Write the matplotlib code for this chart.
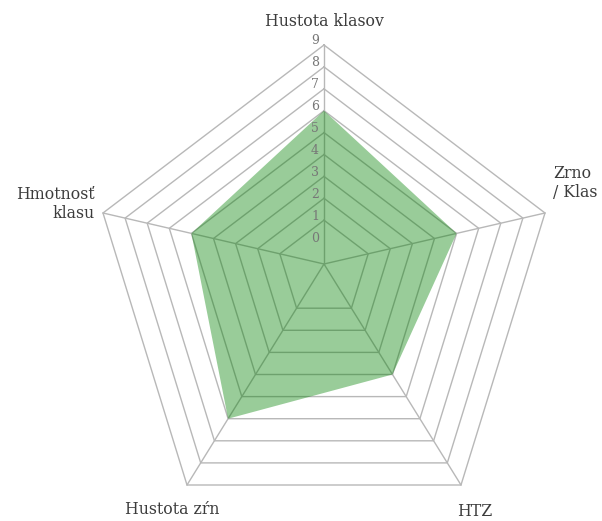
import numpy as np
import matplotlib
matplotlib.use("Agg")
import matplotlib.pyplot as plt

# 1. data
categories = ["Hustota klasov", "Zrno\n/ Klas", "HTZ", "Hustota zŕn", "Hmotnosť\nklasu"]
values = [6, 5, 4, 6, 5]
tick_values = [0, 1, 2, 3, 4, 5, 6, 7, 8, 9]
ring_values = [1, 2, 3, 4, 5, 6, 7, 8, 9]
r_min, r_max = -1, 9

# 2. layout (pixels, the web of the original is not a regular pentagon)
cx, cy = 324, 264
spoke_dx = [0, 221, 137, -137, -221]
spoke_dy = [-219, -51, 221, 221, -51]
label_pos = [(324, 22, "center"), (553, 183, "left"), (457, 512, "left"),
             (172, 510, "center"), (95, 204, "right")]

grid_color = "#b8b8b8"
fill_color = "#008000"
text_color = "#3c3c3c"
tick_color = "#777777"
serif = ["DejaVu Serif"]


def to_xy(i, v):
  frac = (v - r_min) / (r_max - r_min)
  return cx + frac * spoke_dx[i], cy + frac * spoke_dy[i]


fig = plt.figure(figsize=(6.02, 5.21), dpi=100)
ax = fig.add_axes([0, 0, 1, 1])
ax.set_xlim(0, 602)
ax.set_ylim(521, 0)
ax.axis("off")

n = len(categories)

# 3. rings + spokes
for rv in ring_values:
  pts = [to_xy(i, rv) for i in range(n)] + [to_xy(0, rv)]
  ax.plot([p[0] for p in pts], [p[1] for p in pts], color=grid_color, lw=1.0, zorder=1)
for i in range(n):
  x1, y1 = to_xy(i, r_max)
  ax.plot([cx, x1], [cy, y1], color=grid_color, lw=1.0, zorder=1)

# 4. data polygon
pts = [to_xy(i, v) for i, v in enumerate(values)]
ax.fill([p[0] for p in pts], [p[1] for p in pts], color=fill_color, alpha=0.4, lw=0, zorder=3)

# 5. tick labels on the top spoke
for tv in tick_values:
  x, y = to_xy(0, tv)
  ax.text(x - 5, y - 0.5, str(tv), ha="right", va="baseline", fontsize=9,
          color=tick_color, family=serif, zorder=4)

# 6. category labels
for name, (x, y, ha) in zip(categories, label_pos):
  ax.text(x, y, name, ha=ha, va="center", multialignment=ha, fontsize=11.3,
          color=text_color, family=serif, linespacing=1.15, zorder=4)

fig.savefig("out.png", dpi=100)
